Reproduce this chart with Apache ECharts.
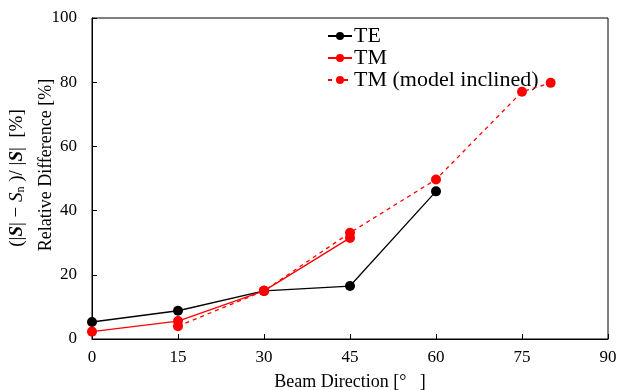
<!DOCTYPE html>
<html><head><meta charset="utf-8">
<script src="https://cdn.jsdelivr.net/npm/echarts@6/dist/echarts.min.js"></script>
<style>html,body{margin:0;padding:0;background:#fff}#c{width:619px;height:390px}</style>
</head><body><div id="c"></div>
<script>
var teX = [0, 15, 30, 45, 60];
var teY = [5.3, 8.8, 15.0, 16.5, 46.0];
var tmX = [0, 15, 30, 45];
var tmY = [2.3, 5.6, 15.0, 31.5];
var tmIncX = [15, 30, 45, 60, 75, 80];
var tmIncY = [4.0, 15.0, 33.1, 49.7, 77.0, 79.8];
var xTicks = [0, 15, 30, 45, 60, 75, 90];
var yTicks = [0, 20, 40, 60, 80, 100];
var seriesNames = ['TE', 'TM', 'TM (model inclined)'];

function pairs(xs, ys) { return xs.map(function (x, i) { return [x, ys[i]]; }); }
var FONT = '"Liberation Serif", "Times New Roman", serif';

var chart = echarts.init(document.getElementById('c'));
chart.setOption({
  animation: false,
  textStyle: { fontFamily: FONT },
  grid: { left: 92, right: 11, top: 18, bottom: 51, show: true, borderColor: '#000', borderWidth: 1,
          containLabel: false, outerBoundsMode: 'none' },
  legend: {
    orient: 'vertical', left: 322, top: 20, itemWidth: 24, itemHeight: 10, itemGap: 0,
    textStyle: { fontFamily: FONT, fontSize: 22, lineHeight: 22, color: '#000', padding: [0, 0, 0, -3] },
    data: seriesNames
  },
  xAxis: {
    type: 'value', min: xTicks[0], max: xTicks[xTicks.length - 1], interval: 15,
    name: 'Beam Direction [°   ]', nameLocation: 'middle', nameGap: 34,
    nameTextStyle: { fontFamily: FONT, fontSize: 18, color: '#000' },
    axisLine: { lineStyle: { color: '#000', width: 1 } },
    axisTick: { inside: true, length: 5, lineStyle: { color: '#000' } },
    axisLabel: { fontFamily: FONT, fontSize: 17, color: '#000', margin: 10 },
    splitLine: { show: false }
  },
  yAxis: {
    type: 'value', min: yTicks[0], max: yTicks[yTicks.length - 1], interval: 20,
    axisLine: { show: true, lineStyle: { color: '#000', width: 1 } },
    axisTick: { show: true, inside: true, length: 5, lineStyle: { color: '#000' } },
    axisLabel: { fontFamily: FONT, fontSize: 17, color: '#000', margin: 15 },
    splitLine: { show: false }
  },
  graphic: [
    {
      type: 'text', x: 17, y: 178, rotation: Math.PI / 2,
      style: {
        text: '(|{bi|S}| − {i|S}{sub|n} )/ |{bi|S}|  [%]',
        font: '19px ' + FONT, fill: '#000', align: 'center', verticalAlign: 'middle',
        rich: {
          bi: { fontFamily: FONT, fontSize: 19, fontWeight: 'bold', fontStyle: 'italic', fill: '#000' },
          i: { fontFamily: FONT, fontSize: 19, fontStyle: 'italic', fill: '#000' },
          sub: { fontFamily: FONT, fontSize: 12, fill: '#000', verticalAlign: 'bottom', padding: [7, 0, 0, 0] }
        }
      }
    },
    {
      type: 'text', x: 46, y: 165, rotation: Math.PI / 2,
      style: { text: 'Relative Difference [%]', font: '18px ' + FONT, fill: '#000', align: 'center', verticalAlign: 'middle' }
    }
  ],
  series: [
    {
      name: seriesNames[0], type: 'line', data: pairs(teX, teY), symbol: 'circle', symbolSize: 10,
      itemStyle: { color: '#000' }, lineStyle: { color: '#000', width: 1.3 }, z: 3
    },
    {
      name: seriesNames[1], type: 'line', data: pairs(tmX, tmY), symbol: 'circle', symbolSize: 10,
      itemStyle: { color: '#ff0000' }, lineStyle: { color: '#ff0000', width: 1.3 }, z: 4
    },
    {
      name: seriesNames[2], type: 'line', data: pairs(tmIncX, tmIncY), symbol: 'circle', symbolSize: 10,
      itemStyle: { color: '#ff0000' }, lineStyle: { color: '#ff0000', width: 1.3, type: [4, 4] }, z: 4
    }
  ]
});
</script></body></html>
